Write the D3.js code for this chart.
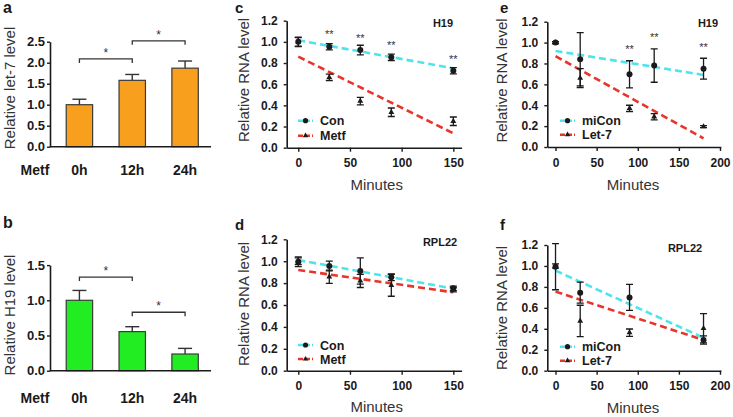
<!DOCTYPE html>
<html>
<head>
<meta charset="utf-8">
<script src="https://cdn.jsdelivr.net/npm/d3@7"></script>
<style>
  body { margin: 0; background: #fff; }
  svg { display: block; font-family: Arial, "Liberation Sans", sans-serif; }
</style>
</head>
<body>
<svg id="chart" width="733" height="417"></svg>
<script>
// ========== Data ==========

// a / b : bar charts after metformin treatment
const barGroups = ['0h', '12h', '24h'];
const let7Mean = [1.0, 1.58, 1.87];
const let7Err = [0.13, 0.14, 0.17];
const h19Mean = [1.0, 0.555, 0.237];
const h19Err = [0.14, 0.07, 0.08];
const let7Ticks = [0, 0.5, 1.0, 1.5, 2.0, 2.5];
const h19Ticks = [0, 0.5, 1.0, 1.5];
// significance brackets: from group, to group, height
const let7Sig = [['0h', '12h', 2.09], ['12h', '24h', 2.52]];
const h19Sig = [['0h', '12h', 1.33], ['12h', '24h', 0.83]];

// c : H19 decay, Con vs Metf
const cMinutes = [0, 30, 60, 90, 150];
const cCon = [1.0, 0.954, 0.923, 0.854, 0.727];
const cConErr = [0.045, 0.03, 0.045, 0.03, 0.03];
const cMetf = [1.0, 0.665, 0.44, 0.335, 0.25];
const cMetfErr = [0.04, 0.03, 0.036, 0.04, 0.04];
const cFitMin = [0, 150];
const cConFit = [1.015, 0.75];
const cMetfFit = [0.86, 0.136];
const cStarMin = [30, 60, 90, 150];
const cStarVal = [1.09, 1.055, 0.99, 0.86];

// d : RPL22 decay, Con vs Metf
const dMinutes = [0, 30, 60, 90, 150];
const dCon = [0.995, 0.956, 0.91, 0.853, 0.752];
const dConErr = [0.045, 0.045, 0.12, 0.03, 0.02];
const dMetf = [1.0, 0.858, 0.82, 0.78, 0.74];
const dMetfErr = [0.03, 0.06, 0.06, 0.1, 0.02];
const dFitMin = [0, 150];
const dConFit = [1.01, 0.75];
const dMetfFit = [0.92, 0.716];

// e : H19 decay, miCon vs Let-7
const eMinutes = [0, 30, 90, 120, 180];
const eCon = [1.0, 0.84, 0.696, 0.78, 0.75];
const eConErr = [0.01, 0.255, 0.13, 0.16, 0.1];
const eLet7 = [1.0, 0.66, 0.37, 0.29, 0.195];
const eLet7Err = [0.01, 0.09, 0.03, 0.03, 0.01];
const eFitMin = [0, 180];
const eConFit = [0.92, 0.69];
const eLet7Fit = [0.87, 0.083];
const eStarMin = [90, 120, 180];
const eStarVal = [0.96, 1.07, 0.98];

// f : RPL22 decay, miCon vs Let-7
const fMinutes = [0, 30, 90, 180];
const fCon = [0.993, 0.745, 0.70, 0.293];
const fConErr = [0.22, 0.1, 0.125, 0.04];
const fLet7 = [1.0, 0.475, 0.363, 0.405];
const fLet7Err = [0.02, 0.15, 0.035, 0.14];
const fFitMin = [0, 180];
const fConFit = [0.955, 0.315];
const fLet7Fit = [0.755, 0.293];

const rnaTicks = [0, 0.2, 0.4, 0.6, 0.8, 1.0, 1.2];

// ========== Styles ==========

const ink = '#1a1a1a';
const cyan = '#4fe3ee';
const red = '#e8352b';

const svg = d3.select('#chart');

function text(g, x, y, str, opts = {}) {
  const t = g.append('text')
    .attr('x', x).attr('y', y)
    .attr('text-anchor', opts.anchor || 'middle')
    .attr('font-size', opts.size || 12)
    .attr('font-weight', opts.weight || 'normal')
    .attr('fill', opts.fill || ink)
    .text(str);
  if (opts.rotate) t.attr('transform', `rotate(-90, ${x}, ${y})`);
  return t;
}

function styleAxis(sel, fontSize) {
  sel.selectAll('path.domain').attr('stroke', ink).attr('stroke-width', 1.6);
  sel.selectAll('.tick line').attr('stroke', ink).attr('stroke-width', 1.4);
  sel.selectAll('.tick text')
    .attr('fill', ink)
    .attr('font-size', fontSize)
    .attr('font-weight', 'bold')
    .attr('font-family', 'Arial, "Liberation Sans", sans-serif');
}

// ========== Bar panels (a, b) ==========

function drawBars(cfg) {
  const g = svg.append('g');
  const x = d3.scaleBand()
    .domain(barGroups)
    .range(cfg.xRange)
    .paddingInner(0.5)
    .paddingOuter(0.25);
  const y = d3.scaleLinear().domain(cfg.yDomain).range(cfg.yRange);

  // bars
  g.selectAll('rect.bar')
    .data(cfg.mean)
    .join('rect')
    .attr('x', (d, i) => x(barGroups[i]))
    .attr('y', d => y(d))
    .attr('width', x.bandwidth())
    .attr('height', d => y(0) - y(d))
    .attr('fill', cfg.color)
    .attr('stroke', '#3a3a3a')
    .attr('stroke-width', 1.2);

  // upward error bars
  cfg.mean.forEach((m, i) => {
    const cx = x(barGroups[i]) + x.bandwidth() / 2;
    g.append('line')
      .attr('x1', cx).attr('x2', cx)
      .attr('y1', y(m)).attr('y2', y(m + cfg.err[i]))
      .attr('stroke', '#333').attr('stroke-width', 1.4);
    g.append('line')
      .attr('x1', cx - 7).attr('x2', cx + 7)
      .attr('y1', y(m + cfg.err[i])).attr('y2', y(m + cfg.err[i]))
      .attr('stroke', '#333').attr('stroke-width', 1.4);
  });

  // y axis
  const ax = g.append('g')
    .attr('transform', `translate(${cfg.axisX},0)`)
    .call(d3.axisLeft(y).tickValues(cfg.ticks).tickFormat(d3.format('.1f'))
      .tickSize(3).tickSizeOuter(0).tickPadding(2));
  styleAxis(ax, 13);

  // x baseline
  g.append('line')
    .attr('x1', cfg.axisX).attr('x2', cfg.xEnd)
    .attr('y1', y(0)).attr('y2', y(0))
    .attr('stroke', ink).attr('stroke-width', 1.6);

  // significance brackets
  cfg.sig.forEach(([a, b, h]) => {
    const x1 = x(a) + x.bandwidth() / 2;
    const x2 = x(b) + x.bandwidth() / 2;
    const yy = y(h);
    g.append('path')
      .attr('d', `M${x1},${yy + 4}V${yy}H${x2}V${yy + 4}`)
      .attr('fill', 'none')
      .attr('stroke', '#333')
      .attr('stroke-width', 1.3);
    text(g, (x1 + x2) / 2, yy - 2, '*', { size: 12, fill: '#333' });
  });

  // category row
  text(g, 35, cfg.labelY, 'Metf', { size: 14, weight: 'bold' });
  barGroups.forEach(c => {
    text(g, x(c) + x.bandwidth() / 2, cfg.labelY, c, { size: 14, weight: 'bold' });
  });

  text(g, cfg.letter[1], cfg.letter[2], cfg.letter[0], { size: 16, weight: 'bold', anchor: 'start' });
  text(g, cfg.ylab[1], cfg.ylab[2], cfg.ylab[0], { size: 15, rotate: true, fill: '#333' });
}

drawBars({
  mean: let7Mean, err: let7Err, color: '#f99f1e',
  yDomain: [0, 2.5], yRange: [146.7, 41.7], ticks: let7Ticks,
  xRange: [53, 211.5], axisX: 50, xEnd: 211,
  sig: let7Sig, labelY: 175,
  letter: ['a', 3, 13], ylab: ['Relative let-7 level', 15, 88]
});

drawBars({
  mean: h19Mean, err: h19Err, color: '#22ec22',
  yDomain: [0, 1.5], yRange: [370.7, 265.1], ticks: h19Ticks,
  xRange: [53, 211.5], axisX: 50, xEnd: 211,
  sig: h19Sig, labelY: 403,
  letter: ['b', 3, 228], ylab: ['Relative H19 level', 15, 315]
});

// ========== Decay panels (c-f) ==========

function marker(g, type, cx, cy, s) {
  if (type === 'circle') {
    g.append('circle').attr('cx', cx).attr('cy', cy).attr('r', s).attr('fill', ink);
  } else {
    g.append('path')
      .attr('d', d3.symbol(d3.symbolTriangle, s * s * 2.6)())
      .attr('transform', `translate(${cx},${cy})`)
      .attr('fill', ink);
  }
}

function drawDecay(cfg) {
  const g = svg.append('g');
  const x = d3.scaleLinear().domain(cfg.xDomain).range(cfg.xRange);
  const y = d3.scaleLinear().domain([0, 1.2]).range(cfg.yRange);

  // fitted dashed lines
  cfg.series.forEach(s => {
    g.append('line')
      .attr('x1', x(cfg.fitMin[0])).attr('x2', x(cfg.fitMin[1]))
      .attr('y1', y(s.fit[0])).attr('y2', y(s.fit[1]))
      .attr('stroke', s.color)
      .attr('stroke-width', 2.6)
      .attr('stroke-dasharray', '7,4');
  });

  // points with error bars (second series first so circles sit on top)
  cfg.series.slice().reverse().forEach(s => {
    s.values.forEach((v, i) => {
      const cx = x(cfg.minutes[i]);
      const lo = y(v - s.err[i]);
      const hi = y(v + s.err[i]);
      g.append('path')
        .attr('d', `M${cx - 3.5},${hi}H${cx + 3.5}M${cx},${hi}V${lo}M${cx - 3.5},${lo}H${cx + 3.5}`)
        .attr('fill', 'none')
        .attr('stroke', ink)
        .attr('stroke-width', 1.3);
      marker(g, s.marker, cx, y(v), s.marker === 'circle' ? 3 : 2.4);
    });
  });

  // stars
  (cfg.starMin || []).forEach((m, i) => {
    text(g, x(m), y(cfg.starVal[i]) + 6, '**', { size: 11, fill: '#333' });
  });

  // axes
  const ay = g.append('g')
    .attr('transform', `translate(${x(cfg.xDomain[0])},0)`)
    .call(d3.axisLeft(y).tickValues(rnaTicks).tickFormat(d3.format('.1f'))
      .tickSize(3).tickSizeOuter(0).tickPadding(6));
  styleAxis(ay, 12);

  const ax = g.append('g')
    .attr('transform', `translate(0,${y(0)})`)
    .call(d3.axisBottom(x).tickValues(cfg.xTicks).tickFormat(d3.format('d'))
      .tickSize(4).tickSizeOuter(0).tickPadding(7));
  styleAxis(ax, 12);

  // legend
  cfg.series.forEach((s, i) => {
    const ly = cfg.legend[1] + i * cfg.legend[2];
    const lx = cfg.legend[0];
    g.append('line')
      .attr('x1', lx).attr('x2', lx + 15)
      .attr('y1', ly).attr('y2', ly)
      .attr('stroke', s.color).attr('stroke-width', 2.6)
      .attr('stroke-dasharray', '5,2');
    marker(g, s.marker, lx + 7.5, ly, s.marker === 'circle' ? 2.6 : 2.2);
    text(g, lx + 22, ly + 4.5, s.name, { size: 12.5, weight: 'bold', anchor: 'start' });
  });

  text(g, cfg.gene[1], cfg.gene[2], cfg.gene[0], { size: 11, weight: 'bold' });
  text(g, cfg.letter[1], cfg.letter[2], cfg.letter[0], { size: 15, weight: 'bold', anchor: 'start' });
  text(g, cfg.ylab[0], cfg.ylab[1], 'Relative RNA level', { size: 15, rotate: true, fill: '#333' });
  text(g, cfg.xlab[0], cfg.xlab[1], 'Minutes', { size: 15, fill: '#333' });
}

drawDecay({
  minutes: cMinutes, fitMin: cFitMin,
  series: [
    { name: 'Con', values: cCon, err: cConErr, fit: cConFit, color: cyan, marker: 'circle' },
    { name: 'Metf', values: cMetf, err: cMetfErr, fit: cMetfFit, color: red, marker: 'triangle' }
  ],
  starMin: cStarMin, starVal: cStarVal,
  xDomain: [-11.2, 158], xRange: [286.7, 461.6], yRange: [147.7, 20.7],
  xTicks: [0, 50, 100, 150],
  legend: [298, 120.7, 15], gene: ['H19', 443, 27],
  letter: ['c', 235, 13], ylab: [248.5, 80], xlab: [376.7, 190]
});

drawDecay({
  minutes: dMinutes, fitMin: dFitMin,
  series: [
    { name: 'Con', values: dCon, err: dConErr, fit: dConFit, color: cyan, marker: 'circle' },
    { name: 'Metf', values: dMetf, err: dMetfErr, fit: dMetfFit, color: red, marker: 'triangle' }
  ],
  xDomain: [-11.2, 158], xRange: [286.7, 461.6], yRange: [370.7, 239.3],
  xTicks: [0, 50, 100, 150],
  legend: [298, 345, 14], gene: ['RPL22', 440, 246],
  letter: ['d', 235, 230], ylab: [248.5, 304], xlab: [376.7, 412]
});

drawDecay({
  minutes: eMinutes, fitMin: eFitMin,
  series: [
    { name: 'miCon', values: eCon, err: eConErr, fit: eConFit, color: cyan, marker: 'circle' },
    { name: 'Let-7', values: eLet7, err: eLet7Err, fit: eLet7Fit, color: red, marker: 'triangle' }
  ],
  starMin: eStarMin, starVal: eStarVal,
  xDomain: [-10, 201], xRange: [547.3, 720.8], yRange: [147, 21.7],
  xTicks: [0, 50, 100, 150, 200],
  legend: [560, 120.7, 14], gene: ['H19', 708, 27],
  letter: ['e', 500, 13], ylab: [506.5, 80.5], xlab: [633, 190]
});

drawDecay({
  minutes: fMinutes, fitMin: fFitMin,
  series: [
    { name: 'miCon', values: fCon, err: fConErr, fit: fConFit, color: cyan, marker: 'circle' },
    { name: 'Let-7', values: fLet7, err: fLet7Err, fit: fLet7Fit, color: red, marker: 'triangle' }
  ],
  xDomain: [-10, 201], xRange: [547.3, 720.8], yRange: [370.7, 245],
  xTicks: [0, 50, 100, 150, 200],
  legend: [560, 346.7, 14], gene: ['RPL22', 685, 252],
  letter: ['f', 500, 230], ylab: [506.5, 308], xlab: [633, 413]
});
</script>
</body>
</html>
